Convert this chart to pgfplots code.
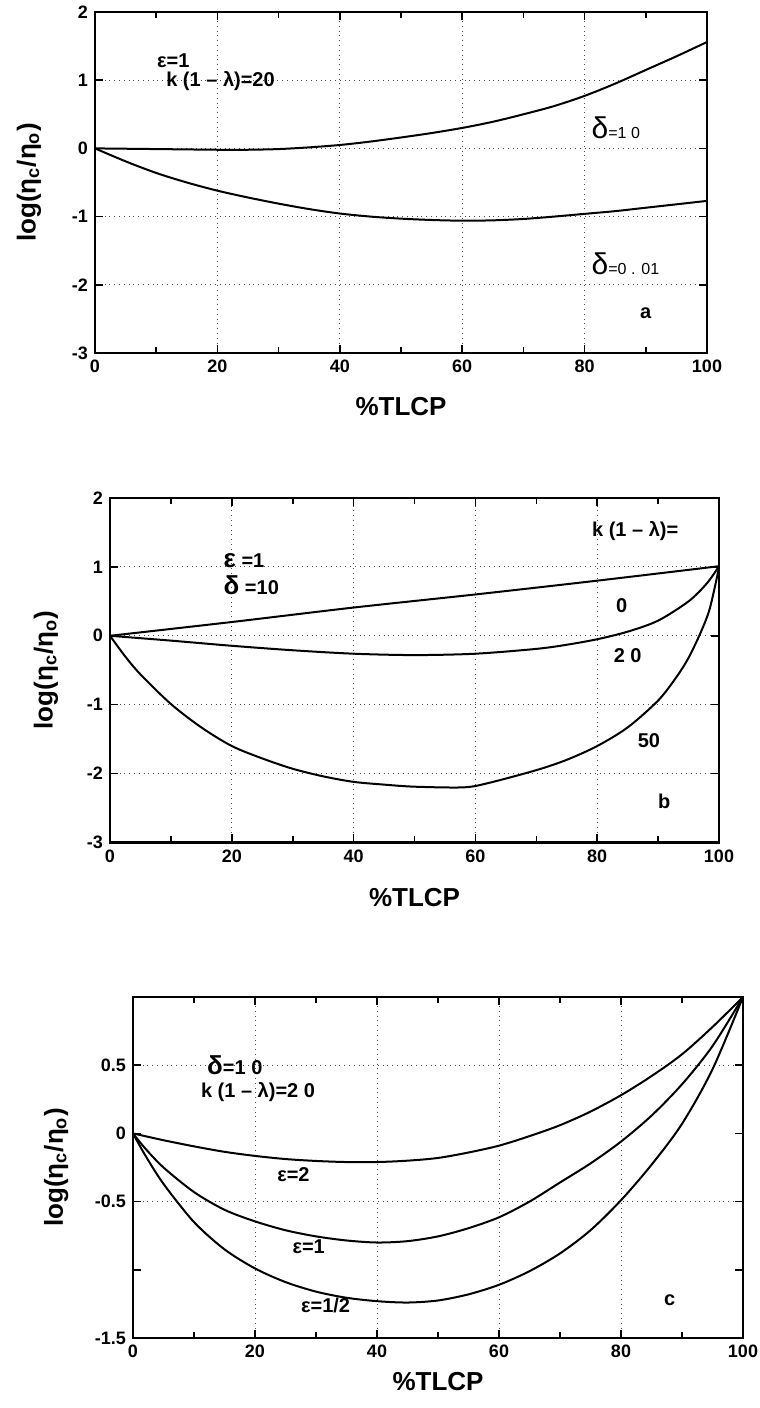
\documentclass[border=0pt]{standalone}
\usepackage{fontspec}
\setmainfont{Liberation Sans}
\usepackage{pgfplots}
\pgfplotsset{compat=1.18}
\pgfplotsset{
  crv/.style={black, line width=1pt, smooth, mark=none},
  panel/.style={
    scale only axis, anchor=south west,
    xmin=0, xmax=100, xtick={0,20,...,100}, minor xtick={10,30,...,90},
    grid=major, grid style={dotted, black!70, line width=0.5pt},
    axis line style={line width=1.3pt},
    major tick length=4pt, minor tick length=3pt,
    tick style={black, line width=0.8pt},
    tick align=inside,
    ticklabel style={font=\fontsize{9}{10}\selectfont\bfseries},
    /pgf/number format/assume math mode=true,
    xlabel={\%TLCP},
    xlabel style={font=\fontsize{13}{15}\selectfont\bfseries, anchor=center},
    ylabel={log(η\textsubscript{c}/η\textsubscript{o})},
    ylabel style={font=\fontsize{13}{15}\selectfont\bfseries, anchor=center},
    clip=false,
  }
}
\newcommand{\ann}{\fontsize{10}{12}\selectfont\bfseries}
\begin{document}
\begin{tikzpicture}
\path[use as bounding box] (0,0) rectangle (380pt,704pt);
% ---------------- panel a ----------------
\begin{axis}[panel, at={(47.5pt,527.5pt)}, width=306pt, height=170.5pt,
  ymin=-3, ymax=2, ytick={-3,-2,...,2},
  xlabel style={at={(axis description cs:0.5,-0.158)}},
  ylabel style={at={(axis description cs:-0.108,0.5)}}]
\addplot[crv] coordinates {(0,0) (5,-0.005) (10,-0.01) (15,-0.015) (20,-0.02) (25,-0.02) (30,-0.01) (35,0.015) (40,0.05) (45,0.1) (50,0.16) (55,0.225) (60,0.30) (65,0.39) (70,0.50) (75,0.62) (80,0.77) (85,0.95) (90,1.15) (95,1.35) (100,1.56)};
\addplot[crv] coordinates {(0,0) (5,-0.19) (10,-0.36) (15,-0.5) (20,-0.62) (25,-0.72) (30,-0.81) (35,-0.89) (40,-0.955) (45,-1.0) (50,-1.03) (55,-1.05) (60,-1.06) (65,-1.055) (70,-1.035) (75,-1.0) (80,-0.96) (85,-0.92) (90,-0.87) (95,-0.82) (100,-0.77)};
\node[anchor=west, font=\ann] at (axis cs:9,1.28) {ε=1};
\node[anchor=west, font=\ann] at (axis cs:10.5,0.99) {k (1 – λ)=20};
\node[anchor=west] at (axis cs:80,0.3) {{\fontsize{15}{16}\selectfont δ}{\fontsize{8}{9}\selectfont =1 0}};
\node[anchor=west] at (axis cs:80,-1.69) {{\fontsize{15}{16}\selectfont δ}{\fontsize{8}{9}\selectfont =0 . 01}};
\node[font=\ann] at (axis cs:90,-2.42) {a};
\end{axis}
% ---------------- panel b ----------------
\begin{axis}[panel, at={(55pt,282.75pt)}, width=304.5pt, height=172.25pt,
  ymin=-3, ymax=2, ytick={-3,-2,...,2},
  xlabel style={at={(axis description cs:0.5,-0.16)}},
  ylabel style={at={(axis description cs:-0.105,0.5)}}]
\addplot[crv] coordinates {(0,0) (20,0.2) (40,0.41) (60,0.6) (80,0.8) (100,1.01)};
\addplot[crv] coordinates {(0,0) (10,-0.07) (20,-0.145) (30,-0.21) (40,-0.26) (50,-0.28) (60,-0.26) (70,-0.19) (75,-0.13) (80,-0.05) (85,0.06) (90,0.22) (95,0.5) (98,0.76) (100,1.01)};
\addplot[crv] coordinates {(0,0) (2.5,-0.3) (5,-0.56) (10,-0.99) (15,-1.33) (20,-1.6) (25,-1.78) (30,-1.93) (35,-2.04) (40,-2.12) (45,-2.16) (50,-2.19) (58,-2.2) (62,-2.14) (70,-1.95) (75,-1.8) (80,-1.6) (85,-1.33) (90,-0.94) (93,-0.6) (95,-0.32) (97,0.05) (98.5,0.4) (100,0.99)};
\node[anchor=west, font=\ann] at (axis cs:78,1.52) {k (1 – λ)=};
\node[anchor=west, font=\ann] at (axis cs:17.5,1.09) {{\fontsize{13}{14}\selectfont ε} =1};
\node[anchor=west, font=\ann] at (axis cs:17.5,0.73) {{\fontsize{13}{14}\selectfont δ} =10};
\node[font=\ann] at (axis cs:84,0.44) {0};
\node[font=\ann] at (axis cs:85,-0.29) {2 0};
\node[font=\ann] at (axis cs:88.5,-1.52) {50};
\node[font=\ann] at (axis cs:91,-2.4) {b};
\end{axis}
% ---------------- panel c ----------------
\begin{axis}[panel, at={(66.5pt,35pt)}, width=305pt, height=170.5pt,
  ymin=-1.5, ymax=1, ytick={-0.5,0.5},
  extra y ticks={-1.5,-1,0}, extra y tick labels={-1.5,,0},
  extra y tick style={grid=none},
  xlabel style={at={(axis description cs:0.5,-0.129)}},
  ylabel style={at={(axis description cs:-0.126,0.5)}}]
\addplot[crv] coordinates {(0,0) (5,-0.05) (10,-0.095) (15,-0.135) (20,-0.165) (25,-0.188) (30,-0.202) (35,-0.21) (40,-0.21) (45,-0.2) (50,-0.18) (55,-0.14) (60,-0.09) (65,-0.02) (70,0.06) (75,0.16) (80,0.28) (85,0.42) (90,0.58) (95,0.78) (100,1.0)};
\addplot[crv] coordinates {(0,0) (2,-0.11) (5,-0.25) (10,-0.43) (15,-0.56) (20,-0.645) (25,-0.71) (30,-0.755) (35,-0.785) (40,-0.8) (45,-0.79) (50,-0.755) (55,-0.695) (60,-0.615) (65,-0.5) (70,-0.36) (75,-0.22) (80,-0.06) (85,0.13) (90,0.36) (95,0.64) (100,1.0)};
\addplot[crv] coordinates {(0,0) (2,-0.16) (5,-0.37) (10,-0.65) (15,-0.85) (20,-0.99) (25,-1.09) (30,-1.16) (35,-1.205) (40,-1.23) (45,-1.24) (50,-1.225) (55,-1.18) (60,-1.11) (65,-1.01) (70,-0.88) (75,-0.71) (80,-0.49) (85,-0.23) (90,0.07) (95,0.47) (100,1.0)};
\node[anchor=west, font=\ann] at (axis cs:11,0.5) {{\fontsize{13}{14}\selectfont δ}=1 0};
\node[anchor=west, font=\ann] at (axis cs:10,0.3) {k (1 – λ)=2 0};
\node[anchor=west, font=\ann] at (axis cs:22.5,-0.3) {ε=2};
\node[anchor=west, font=\ann] at (axis cs:25,-0.83) {ε=1};
\node[anchor=west, font=\ann] at (axis cs:26.4,-1.26) {ε=1/2};
\node[font=\ann] at (axis cs:88,-1.22) {c};
\end{axis}
\end{tikzpicture}
\end{document}
